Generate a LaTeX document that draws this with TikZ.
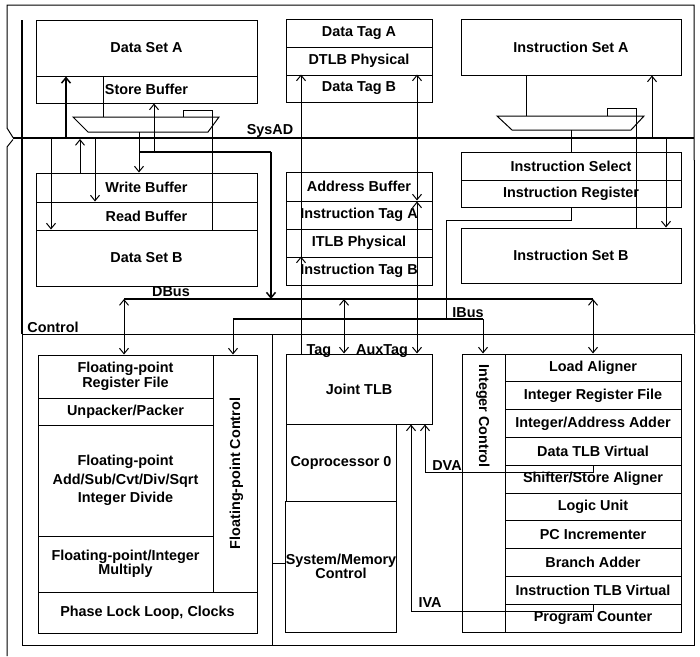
\documentclass[tikz,border=0pt]{standalone}
\usepackage{fontspec}
\setmainfont{Liberation Sans}
\usetikzlibrary{arrows.meta,calc}
\begin{document}
\begin{tikzpicture}[x=1pt,y=-1pt,
  cell/.style={draw, line width=1pt, inner sep=0pt, align=center, font=\fontsize{14.4}{13}\selectfont\bfseries},
  lbl/.style={inner sep=0pt, text height=10pt, text depth=0pt, font=\fontsize{14.4}{14}\selectfont\bfseries},
  ln/.style={line width=1pt},
  bus/.style={line width=1.5pt},
  arr/.style={ln, -{Straight Barb[length=5.5pt,width=9pt]}},
  tarr/.style={bus, -{Straight Barb[length=5.5pt,width=9pt]}},
  darr/.style={ln, {Straight Barb[length=5.5pt,width=9pt]}-{Straight Barb[length=5.5pt,width=9pt]}}
]
\useasboundingbox (0,0) rectangle (700,656);

% ---------- boxes, top left
\node[cell, minimum width=221pt, minimum height=56pt] (dsa) at (146.5,48) {Data Set A};
\node[cell, minimum width=221pt, minimum height=27pt] (sb) at (146.5,89.5) {Store Buffer};
\node[cell, minimum width=221pt, minimum height=29pt] (wb) at (146.5,187.5) {Write Buffer};
\node[cell, minimum width=221pt, minimum height=28pt] (rb) at (146.5,216) {Read Buffer};
\node[cell, minimum width=221pt, minimum height=56pt] (dsb) at (146.5,258) {Data Set B};

% ---------- boxes, top middle
\node[cell, minimum width=146pt, minimum height=28pt] (dta) at (359,33) {Data Tag A};
\node[cell, minimum width=146pt, minimum height=28pt] (dtlb) at (359,61) {DTLB Physical};
\node[cell, minimum width=146pt, minimum height=27pt] (dtb) at (359,88.5) {Data Tag B};
\node[cell, minimum width=146pt, minimum height=29pt] (ab) at (359,186.5) {Address Buffer};
\node[cell, minimum width=146pt, minimum height=28pt] (ita) at (359,215) {Instruction Tag A};
\node[cell, minimum width=146pt, minimum height=28pt] (itlb) at (359,243) {ITLB Physical};
\node[cell, minimum width=146pt, minimum height=28pt] (itb) at (359,271) {Instruction Tag B};

% ---------- boxes, top right
\node[cell, minimum width=220pt, minimum height=56pt] (isa) at (571,47) {Instruction Set A};
\node[cell, minimum width=220pt, minimum height=28pt] (isel) at (571,166) {Instruction Select};
\node[cell, minimum width=220pt, minimum height=27pt] (ireg) at (571,193.5) {Instruction Register};
\node[cell, minimum width=220pt, minimum height=55pt] (isb) at (571,255.5) {Instruction Set B};

% ---------- control box
\node[draw, ln, inner sep=0pt, minimum width=672pt, minimum height=311pt] (ctl) at (358,489.5) {};

% ---------- floating point
\node[cell, minimum width=175pt, minimum height=43pt] (fprf) at (125.5,376.5) {Floating-point\\Register File};
\node[cell, minimum width=175pt, minimum height=27pt] (unp) at (125.5,411.5) {Unpacker/Packer};
\node[cell, minimum width=175pt, minimum height=111pt, font=\fontsize{14.4}{18.5}\selectfont\bfseries] (fpadd) at (125.5,480.5) {Floating-point\\Add/Sub/Cvt/Div/Sqrt\\Integer Divide};
\node[cell, minimum width=175pt, minimum height=56pt] (fpmul) at (125.5,564) {Floating-point/Integer\\Multiply};
\node[cell, minimum width=44pt, minimum height=237pt] (fpc) at (235,473.5) {};
\node[lbl, rotate=90] (fpct) at (fpc.center) {Floating-point Control};
\node[cell, minimum width=219pt, minimum height=41pt] (pll) at (147.5,612.5) {Phase Lock Loop, Clocks};

% ---------- middle
\node[cell, minimum width=146pt, minimum height=70pt] (jtlb) at (359,389) {Joint TLB};
\node[cell, minimum width=110pt, minimum height=77pt] (cp0) at (341,462.5) {Coprocessor 0};
\node[cell, minimum width=110pt, minimum height=131pt] (smc) at (341,566.5) {System/Memory\\Control};

% ---------- integer
\node[cell, minimum width=43pt, minimum height=278pt] (ictl) at (483.5,493) {};
\node[lbl, rotate=-90] (ictlt) at (484,416) {Integer Control};
\node[cell, minimum width=176pt, minimum height=27.8pt] (la)  at (593,367.9) {Load Aligner};
\node[cell, minimum width=176pt, minimum height=27.8pt] (irf) at (593,395.7) {Integer Register File};
\node[cell, minimum width=176pt, minimum height=27.8pt] (iaa) at (593,423.5) {Integer/Address Adder};
\node[cell, minimum width=176pt, minimum height=27.8pt] (dtv) at (593,451.3) {Data TLB Virtual};
\node[cell, minimum width=176pt, minimum height=27.8pt] (ssa) at (593,479.1) {Shifter/Store Aligner};
\node[cell, minimum width=176pt, minimum height=27.8pt] (lu)  at (593,506.9) {Logic Unit};
\node[cell, minimum width=176pt, minimum height=27.8pt] (pci) at (593,534.7) {PC Incrementer};
\node[cell, minimum width=176pt, minimum height=27.8pt] (ba)  at (593,562.5) {Branch Adder};
\node[cell, minimum width=176pt, minimum height=27.8pt] (itv) at (593,590.3) {Instruction TLB Virtual};
\node[cell, minimum width=176pt, minimum height=27.8pt] (pc)  at (593,618.1) {Program Counter};

% ---------- outer frame
\coordinate (fTL) at (7,5);
\coordinate (fTR) at (694,5);
\coordinate (nk1) at (7,128);
\coordinate (nk2) at (13,137.5);
\coordinate (nk3) at (13,139.5);
\coordinate (nk4) at (7,147);
\coordinate (fBL) at (7,656);
\draw[ln] (nk1) -- (fTL) -- (fTR) -- (ctl.north east);
\draw[ln] (nk1) -- (nk2);
\draw[ln] (nk3) -- (nk4) -- (fBL);
\coordinate (c22) at (22,20);
\draw[bus] (c22) -- (c22 |- ctl.north);

% ---------- SysAD
\coordinate (sysL) at (13,138);
\coordinate (sysR) at (694,138);
\draw[bus] (sysL) -- (sysR);

% ---------- data side connectors
\coordinate (s66) at (66,138);
\draw[tarr] (s66) -- (s66 |- dsa.south);
\coordinate (s51) at (51,138);
\draw[arr] (s51) -- (s51 |- dsb.north);
\coordinate (s80) at (80,139);
\draw[arr] (s80 |- wb.north) -- (s80);
\coordinate (s95) at (95,138);
\draw[arr] (s95) -- (s95 |- rb.north);

\coordinate (dmA) at (103,117);
\coordinate (dmO) at (139,132);
\coordinate (dmC) at (212,110);
\draw[ln] (73,117) -- (219,117) -- (208,132) -- (88,132) -- cycle;
\draw[ln] (dsa.south -| dmA) -- (dmA);
\draw[ln] (183,117) |- (dmC) -- (dmC |- dsb.north);
\draw[arr] (dmO) -- (dmO |- wb.north);
\coordinate (j139) at (139,152);
\coordinate (j154) at (154,152);
\coordinate (j271) at (271,152);
\draw[arr] (j154) -- (j154 |- sb.south);
\draw[bus] (j139) -- (j271);

% ---------- DBus
\coordinate (dbL) at (124,299);
\coordinate (dbR) at (593,299);
\draw[bus] (dbL) -- (dbR);
\draw[tarr] (j271) -- (j271 |- dbL);
\draw[darr] (dbL) -- (dbL |- fprf.north);
\coordinate (d344) at (344,299);
\draw[darr] (d344) -- (d344 |- jtlb.north);
\draw[darr] (dbR) -- (dbR |- la.north);

% ---------- instruction side
\coordinate (imA) at (526,116);
\coordinate (imO) at (571,130);
\coordinate (imC) at (636,108);
\draw[ln] (497,116) -- (644,116) -- (631,130) -- (512,130) -- cycle;
\draw[ln] (isa.south -| imA) -- (imA);
\draw[ln] (607,116) |- (imC) -- (imC |- isb.north);
\draw[ln] (imO) -- (isel.north);
\coordinate (s652) at (652,138);
\draw[arr] (s652) -- (s652 |- isa.south);
\coordinate (s666) at (666,138);
\draw[arr] (s666) -- (s666 |- isb.north);

% ---------- IBus
\coordinate (ir1) at (571,220);
\coordinate (ir2) at (446,220);
\coordinate (ibL) at (233,319);
\coordinate (ibR) at (483,319);
\draw[ln] (ireg.south) -- (ir1) -- (ir2) -- (ir2 |- ibL);
\draw[bus] (ibL) -- (ibR);
\draw[arr] (ibL) -- (ibL |- fpc.north);
\draw[arr] (ibR) -- (ibR |- ictl.north);

% ---------- tag lines
\coordinate (x301) at (301,300);
\draw[arr] (jtlb.north -| x301) -- (x301 |- itb.north);
\draw[arr] (x301 |- itb.north) -- (x301 |- dtb.north);
\coordinate (s417) at (417,138);
\coordinate (d417) at (417,299);
\draw[arr] (s417) -- (s417 |- dtb.north);
\draw[arr] (s417) -- ($(s417 |- ab.south)+(0,-1)$);
\draw[arr] (d417) -- ($(d417 |- ita.north)+(0,1)$);
\draw[arr] (d417) -- (d417 |- jtlb.north);

% ---------- control internals
\coordinate (v272) at (272,334);
\draw[ln] (v272) -- (v272 |- ctl.south);
\coordinate (h563) at (272,563);
\draw[ln] (h563) -- (h563 -| smc.west);

% ---------- DVA / IVA
\coordinate (dv1) at (593,472);
\coordinate (dv2) at (425,472);
\draw[arr] (dtv.south) -- (dv1) -- (dv2) -- (dv2 |- jtlb.south);
\coordinate (iv1) at (593,611);
\coordinate (iv2) at (411,611);
\draw[arr] (itv.south) -- (iv1) -- (iv2) -- (iv2 |- jtlb.south);

% ---------- labels
\node[lbl] (lsys) at (270,129.5) {SysAD};
\node[lbl] (ldb) at (171,291.5) {DBus};
\node[lbl] (lib) at (468,312) {IBus};
\node[lbl] (lctl) at (53,327.5) {Control};
\node[lbl] (ltag) at (319,349) {Tag};
\node[lbl] (laux) at (382,349) {AuxTag};
\node[lbl] (ldva) at (447,465) {DVA};
\node[lbl] (liva) at (430,602) {IVA};
\end{tikzpicture}
\end{document}
